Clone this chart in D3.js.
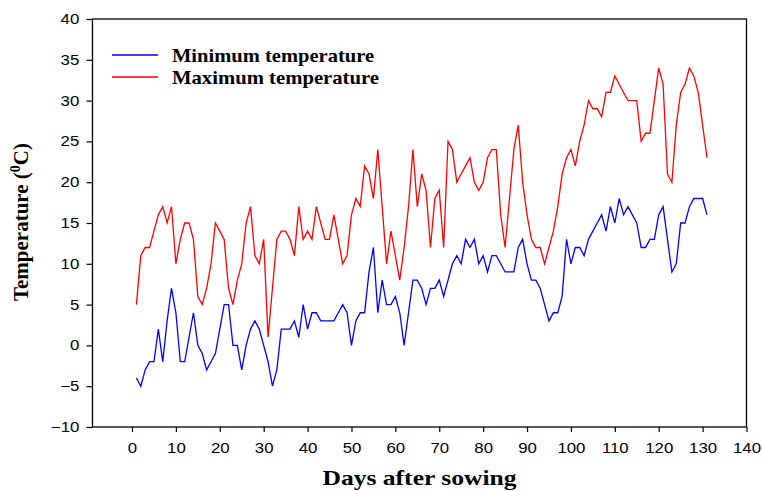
<!DOCTYPE html>
<html>
<head>
<meta charset="utf-8">
<script src="https://cdn.jsdelivr.net/npm/d3@7"></script>
<style>
  body { margin: 0; background: #fff; }
  .tick text { font-family: "Liberation Sans", Arial, sans-serif; font-size: 14px; fill: #000; }
  .tick line { stroke: #000; stroke-width: 1.2; }
  .title { font-family: "Liberation Serif", "Times New Roman", serif; font-weight: bold; fill: #000; }
</style>
</head>
<body>
<div id="chart"></div>
<script>
// days after sowing, 1..131
const days = d3.range(1, 132);

const minTemp = [
  -4, -5, -3, -2, -2, 2, -2, 3, 7, 4,
  -2, -2, 1, 4, 0, -1, -3, -2, -1, 2,
  5, 5, 0, 0, -3, 0, 2, 3, 2, 0,
  -2, -5, -3, 2, 2, 2, 3, 1, 5, 2,
  4, 4, 3, 3, 3, 3, 4, 5, 4, 0,
  3, 4, 4, 9, 12, 4, 8, 5, 5, 6,
  4, 0, 4, 8, 8, 7, 5, 7, 7, 8,
  6, 8, 10, 11, 10, 13, 12, 13, 10, 11,
  9, 11, 11, 10, 9, 9, 9, 12, 13, 10,
  8, 8, 7, 5, 3, 4, 4, 6, 13, 10,
  12, 12, 11, 13, 14, 15, 16, 14, 17, 15,
  18, 16, 17, 16, 15, 12, 12, 13, 13, 16,
  17, 13, 9, 10, 15, 15, 17, 18, 18, 18,
  16
];

const maxTemp = [
  5, 11, 12, 12, 14, 16, 17, 15, 17, 10,
  13, 15, 15, 13, 6, 5, 7, 10, 15, 14,
  13, 7, 5, 8, 10, 15, 17, 11, 10, 13,
  1, 7, 13, 14, 14, 13, 11, 17, 13, 14,
  13, 17, 15, 13, 13, 16, 13, 10, 11, 16,
  18, 17, 22, 21, 18, 24, 17, 10, 14, 11,
  8, 12, 17, 24, 17, 21, 19, 12, 18, 19,
  12, 25, 24, 20, 21, 22, 23, 20, 19, 20,
  23, 24, 24, 16, 12, 18, 24, 27, 20, 16,
  13, 12, 12, 10, 12, 14, 17, 21, 23, 24,
  22, 25, 27, 30, 29, 29, 28, 31, 31, 33,
  32, 31, 30, 30, 30, 25, 26, 26, 30, 34,
  32, 21, 20, 27, 31, 32, 34, 33, 31, 27,
  23
];

const xTicks = d3.range(0, 141, 10);
const yTicks = d3.range(-10, 41, 5);
const seriesNames = ["Minimum temperature", "Maximum temperature"];
const seriesColors = ["#0000ff", "#ff0000"];

const width = 763, height = 491;
const margin = { top: 19, right: 16.5, bottom: 64, left: 92.5 };

const svg = d3.select("#chart")
  .append("svg")
  .attr("width", width)
  .attr("height", height);

const x = d3.scaleLinear()
  .domain([-9, 140])
  .range([margin.left, width - margin.right]);

const y = d3.scaleLinear()
  .domain([-10, 40])
  .range([height - margin.bottom, margin.top]);

// axes (tick labels are drawn a little wide, like the original)
const xAxis = svg.append("g")
  .attr("transform", `translate(0,${height - margin.bottom})`)
  .call(d3.axisBottom(x).tickValues(xTicks).tickSize(5).tickSizeOuter(0).tickPadding(11));
xAxis.select(".domain").remove();
xAxis.selectAll("text").attr("transform", "scale(1.2,1)");

const yAxis = svg.append("g")
  .attr("transform", `translate(${margin.left},0)`)
  .call(d3.axisLeft(y).tickValues(yTicks).tickSize(6).tickSizeOuter(0).tickPadding(5));
yAxis.select(".domain").remove();
yAxis.selectAll("text").attr("transform", "scale(1.2,1)");

// frame
svg.append("rect")
  .attr("x", x(-9))
  .attr("y", y(40))
  .attr("width", x(140) - x(-9))
  .attr("height", y(-10) - y(40))
  .attr("fill", "none")
  .attr("stroke", "#000")
  .attr("stroke-width", 1.3);

// lines
const line = d3.line()
  .x((d, i) => x(days[i]))
  .y(d => y(d));

[minTemp, maxTemp].forEach((series, k) => {
  svg.append("path")
    .datum(series)
    .attr("d", line)
    .attr("fill", "none")
    .attr("stroke", seriesColors[k])
    .attr("stroke-width", 1.3)
    .attr("stroke-linejoin", "miter");
});

// legend
const legendWidths = [202, 207];
const legend = svg.append("g").attr("transform", "translate(112,55)");
seriesNames.forEach((name, k) => {
  const g = legend.append("g").attr("transform", `translate(0,${k * 22})`);
  g.append("line")
    .attr("x1", 0).attr("x2", 46)
    .attr("stroke", seriesColors[k])
    .attr("stroke-width", 1.3);
  g.append("text")
    .attr("class", "title")
    .attr("x", 60)
    .attr("y", 7)
    .attr("font-size", 19)
    .attr("textLength", legendWidths[k])
    .attr("lengthAdjust", "spacingAndGlyphs")
    .text(name);
});

// axis titles
svg.append("text")
  .attr("class", "title")
  .attr("x", (x(-9) + x(140)) / 2)
  .attr("y", 485)
  .attr("text-anchor", "middle")
  .attr("font-size", 22)
  .attr("textLength", 194)
  .attr("lengthAdjust", "spacingAndGlyphs")
  .text("Days after sowing");

const yt = svg.append("text")
  .attr("class", "title")
  .attr("transform", "translate(28,222) rotate(-90)")
  .attr("text-anchor", "middle")
  .attr("font-size", 21);
yt.append("tspan").text("Temperature (");
yt.append("tspan").attr("font-size", 14).attr("dy", -8).text("0");
yt.append("tspan").attr("dy", 8).text("C)");
</script>
</body>
</html>
